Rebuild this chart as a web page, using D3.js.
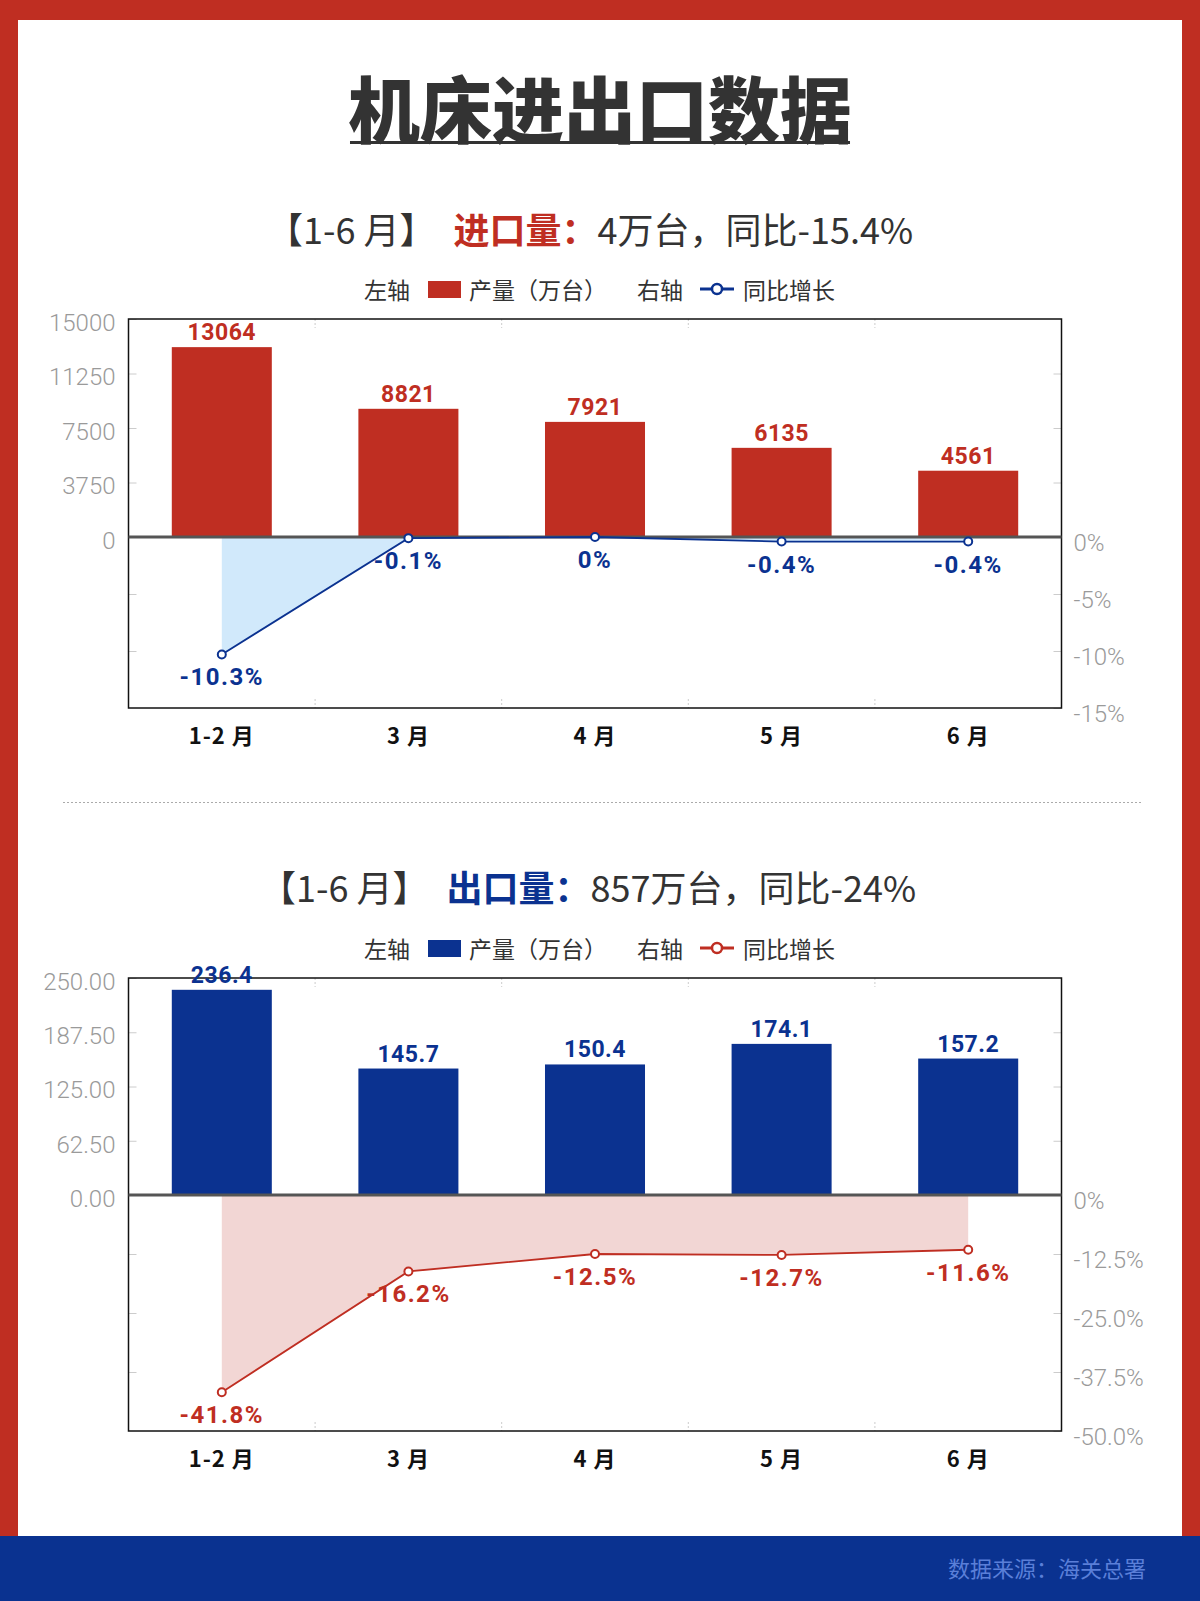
<!DOCTYPE html>
<html>
<head>
<meta charset="utf-8">
<script src="https://cdn.jsdelivr.net/npm/d3@7"></script>
<style>
  body { margin: 0; background: #fff; }
  svg { display: block; }
  text { font-family: "Noto Sans CJK SC", "Noto Sans", sans-serif; }
  text.num { font-family: Roboto, "Noto Sans", sans-serif; }
  .tick text { font-family: Roboto, "Noto Sans", sans-serif; font-weight: 300; }
</style>
</head>
<body>
<svg id="chart"></svg>
<script>
// data
const months = ["1-2 月", "3 月", "4 月", "5 月", "6 月"];

const importQty = [13064, 8821, 7921, 6135, 4561];
const importYoy = [-10.3, -0.1, 0, -0.4, -0.4];
const importLeftTicks = [0, 3750, 7500, 11250, 15000];
const importRightTicks = [0, -5, -10, -15];

const exportQty = [236.4, 145.7, 150.4, 174.1, 157.2];
const exportYoy = [-41.8, -16.2, -12.5, -12.7, -11.6];
const exportLeftTicks = [0, 62.5, 125, 187.5, 250];
const exportRightTicks = [0, -12.5, -25, -37.5, -50];

const width = 1200;
const height = 1601;
const red = "#bf2e22";
const blue = "#0b3290";
const plotLeft = 128.5;
const plotRight = 1061.5;

const svg = d3.select("#chart").attr("width", width).attr("height", height);

// frame
svg.append("rect").attr("width", width).attr("height", height).attr("fill", red);
svg.append("rect").attr("x", 18).attr("y", 20).attr("width", width - 36).attr("height", 1516).attr("fill", "#fff");
svg.append("rect").attr("x", 0).attr("y", 1536).attr("width", width).attr("height", height - 1536).attr("fill", "#0a3290");
svg.append("text")
  .attr("x", 1146).attr("y", 1567)
  .attr("text-anchor", "end").attr("dominant-baseline", "central")
  .attr("font-size", 22).attr("fill", "#5a7fd8")
  .text("数据来源：海关总署");

// title
const title = svg.append("text")
  .attr("x", 600).attr("y", 105)
  .attr("text-anchor", "middle").attr("dominant-baseline", "central")
  .attr("font-size", 72).attr("font-weight", 900).attr("fill", "#333")
  .text("机床进出口数据");
const tb = title.node().getBBox();
svg.append("rect").attr("x", tb.x + 2).attr("y", 141).attr("width", tb.width - 4).attr("height", 3).attr("fill", "#333");

// separator
svg.append("line")
  .attr("x1", 63).attr("x2", 1141).attr("y1", 802.5).attr("y2", 802.5)
  .attr("stroke", "#aaa").attr("stroke-dasharray", "2,2");

const x = d3.scaleBand()
  .domain(months)
  .range([plotLeft, plotRight])
  .paddingInner(0.464)
  .paddingOuter(0.232);
const cx = (m) => x(m) + x.bandwidth() / 2;

const styleAxis = (g) => {
  g.attr("font-size", 24);
  g.select(".domain").remove();
  g.selectAll("line").attr("stroke", "#ccc");
  g.selectAll("text").attr("fill", "#9a9a9a");
};

const drawPanel = (p) => {
  const yL = d3.scaleLinear().domain([0, p.leftTicks[p.leftTicks.length - 1]]).range([p.zero, p.top]);
  const yR = d3.scaleLinear().domain([p.rightTicks[p.rightTicks.length - 1], 0]).range([p.bottom, p.zero]);

  // subtitle
  const st = svg.append("text")
    .attr("x", p.subX).attr("y", p.subY)
    .attr("text-anchor", "middle").attr("dominant-baseline", "central")
    .attr("font-size", 36).attr("fill", "#333");
  st.append("tspan").text("【1-6 月】\u2002");
  st.append("tspan").attr("font-weight", 700).attr("fill", p.barColor).text(p.subKey);
  st.append("tspan").text(p.subRest);

  // legend
  const lg = svg.append("g").attr("font-size", 23).attr("fill", "#333");
  const legText = (tx, s) => lg.append("text").attr("x", tx).attr("y", p.legY)
    .attr("dominant-baseline", "central").text(s);
  legText(364, "左轴");
  lg.append("rect").attr("x", 428).attr("y", p.legY - 8).attr("width", 33).attr("height", 17).attr("fill", p.barColor);
  legText(469, "产量（万台）");
  legText(637, "右轴");
  lg.append("line").attr("x1", 700).attr("x2", 734).attr("y1", p.legY).attr("y2", p.legY)
    .attr("stroke", p.lineColor).attr("stroke-width", 3);
  lg.append("circle").attr("cx", 717).attr("cy", p.legY).attr("r", 5)
    .attr("fill", "#fff").attr("stroke", p.lineColor).attr("stroke-width", 2.5);
  legText(743, "同比增长");

  // axes with inner ticks
  svg.append("g").attr("transform", `translate(${plotLeft},0)`)
    .call(d3.axisLeft(yL).tickValues(p.leftTicks).tickFormat(p.leftFmt).tickSize(-8).tickPadding(13))
    .call(styleAxis)
    .selectAll("text").attr("dy", "0.47em");
  svg.append("g").attr("transform", `translate(${plotLeft},0)`)
    .call(d3.axisLeft(yR).tickValues(p.rightTicks.slice(1, -1)).tickFormat("").tickSize(-8))
    .call(styleAxis);
  svg.append("g").attr("transform", `translate(${plotRight},0)`)
    .call(d3.axisRight(yR).tickValues(p.rightTicks).tickFormat(p.rightFmt).tickSize(-8).tickPadding(12))
    .call(styleAxis)
    .selectAll("text").attr("dy", "0.55em");
  svg.append("g").attr("transform", `translate(${plotRight},0)`)
    .call(d3.axisRight(yL).tickValues(p.leftTicks.slice(1, -1)).tickFormat("").tickSize(-8))
    .call(styleAxis);

  // band separators at top and bottom
  const gap = (x.step() - x.bandwidth()) / 2;
  const seps = months.slice(1).map((m) => x(m) - gap);
  [[p.top, p.top + 9], [p.bottom - 9, p.bottom]].forEach(([a, b]) => {
    svg.append("g").selectAll("line").data(seps).join("line")
      .attr("x1", (d) => d).attr("x2", (d) => d)
      .attr("y1", a).attr("y2", b)
      .attr("stroke", "#ccc").attr("stroke-dasharray", "2,2");
  });

  // area under the yoy line
  const area = d3.area()
    .x((d, i) => cx(months[i]))
    .y0(p.zero)
    .y1((d) => yR(d));
  svg.append("path").datum(p.yoy).attr("d", area).attr("fill", p.areaColor);

  // bars
  svg.append("g").selectAll("rect").data(p.qty).join("rect")
    .attr("x", (d, i) => x(months[i]))
    .attr("y", (d) => yL(d))
    .attr("width", x.bandwidth())
    .attr("height", (d) => p.zero - yL(d))
    .attr("fill", p.barColor);

  // frame
  svg.append("rect")
    .attr("x", plotLeft).attr("y", p.top)
    .attr("width", plotRight - plotLeft).attr("height", p.bottom - p.top)
    .attr("fill", "none").attr("stroke", "#111").attr("stroke-width", 1.5);

  // zero line
  svg.append("line")
    .attr("x1", plotLeft).attr("x2", plotRight)
    .attr("y1", p.zero).attr("y2", p.zero)
    .attr("stroke", "#555").attr("stroke-width", 3);

  // yoy line + points
  const line = d3.line()
    .x((d, i) => cx(months[i]))
    .y((d) => yR(d));
  svg.append("path").datum(p.yoy).attr("d", line)
    .attr("fill", "none").attr("stroke", p.lineColor).attr("stroke-width", 1.8);
  svg.append("g").selectAll("circle").data(p.yoy).join("circle")
    .attr("cx", (d, i) => cx(months[i]))
    .attr("cy", (d) => yR(d))
    .attr("r", 4)
    .attr("fill", "#fff").attr("stroke", p.lineColor).attr("stroke-width", 2);

  // bar value labels
  svg.append("g").selectAll("text").data(p.qty).join("text")
    .classed("num", true)
    .attr("x", (d, i) => cx(months[i]))
    .attr("y", (d) => yL(d) - 7)
    .attr("text-anchor", "middle")
    .attr("font-size", 23).attr("font-weight", 700)
    .attr("letter-spacing", 0.5)
    .attr("fill", p.barColor)
    .text((d) => d);

  // yoy labels
  svg.append("g").selectAll("text").data(p.yoy).join("text")
    .classed("num", true)
    .attr("x", (d, i) => cx(months[i]))
    .attr("y", (d) => yR(d) + 23)
    .attr("text-anchor", "middle").attr("dominant-baseline", "central")
    .attr("font-size", 24).attr("font-weight", 700)
    .attr("letter-spacing", 1.5)
    .attr("fill", p.lineColor)
    .text((d) => d + "%");

  // category labels
  svg.append("g").selectAll("text").data(months).join("text")
    .attr("x", (d) => cx(d))
    .attr("y", p.bottom + 26)
    .attr("text-anchor", "middle").attr("dominant-baseline", "central")
    .attr("font-size", 22).attr("font-weight", 700)
    .attr("letter-spacing", 1)
    .attr("fill", "#111")
    .text((d) => d);
};

drawPanel({
  top: 319, zero: 537, bottom: 708, subX: 590, subY: 228, legY: 289,
  qty: importQty, yoy: importYoy,
  leftTicks: importLeftTicks, rightTicks: importRightTicks,
  leftFmt: d3.format("d"),
  rightFmt: (d) => d + "%",
  barColor: red, lineColor: blue, areaColor: "#d1e9fb",
  subKey: "进口量：", subRest: "4万台，同比-15.4%",
});

drawPanel({
  top: 978, zero: 1195, bottom: 1431, subX: 588, subY: 886, legY: 948,
  qty: exportQty, yoy: exportYoy,
  leftTicks: exportLeftTicks, rightTicks: exportRightTicks,
  leftFmt: d3.format(".2f"),
  rightFmt: (d) => (d === 0 ? "0%" : d3.format(".1f")(d).replace("−", "-") + "%"),
  barColor: blue, lineColor: red, areaColor: "#f2d6d4",
  subKey: "出口量：", subRest: "857万台，同比-24%",
});
</script>
</body>
</html>
